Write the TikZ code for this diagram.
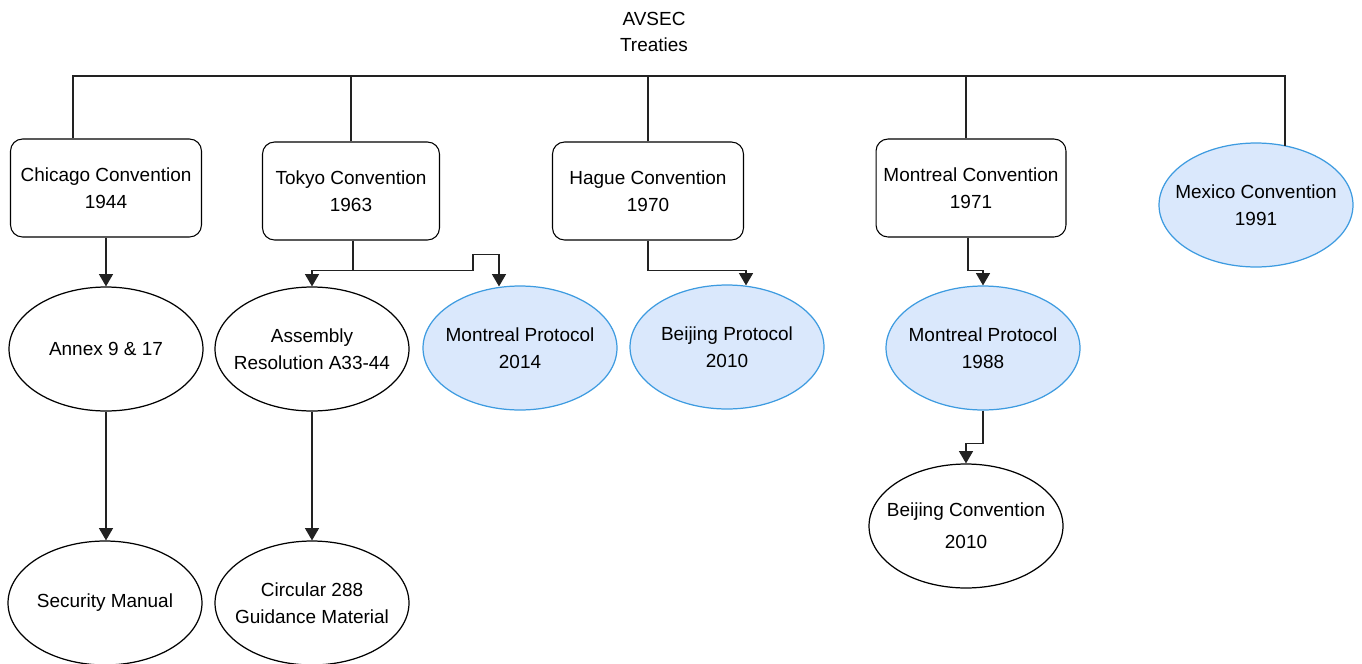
\documentclass[tikz,border=0pt]{standalone}
\usepackage{fontspec}
\setmainfont{Liberation Sans}
\usetikzlibrary{calc,positioning,arrows.meta,shapes.geometric}
\definecolor{protofill}{HTML}{DAE8FC}
\definecolor{protoline}{HTML}{3D9BE0}
\definecolor{linkgray}{HTML}{222222}

\begin{document}
\begin{tikzpicture}[x=0.02cm,y=-0.02cm,
    every node/.style={font=\fontsize{10.8}{15.3}\selectfont,align=center,inner sep=1pt},
    conv/.style={rectangle,draw=black,line width=0.6pt,rounded corners=0.24cm,minimum height=1.96cm},
    doc/.style={ellipse,draw=black,line width=0.7pt,inner xsep=-0.4cm,minimum width=3.88cm,minimum height=2.48cm},
    proto/.style={doc,draw=protoline,fill=protofill},
    link/.style={draw=linkgray,line width=0.6pt},
    arr/.style={link,-{Triangle[length=7pt,width=8pt]}}]

  \useasboundingbox (0,0) rectangle (1362,663);

  \node (title) at(654,32) {AVSEC\\Treaties};

  %% first row: the conventions
  \node (chicago) [conv,minimum width=3.82cm] at(106,188) {Chicago Convention\\1944};
  \node (tokyo) [conv,minimum width=3.54cm] at(351,191) {Tokyo Convention\\1963};
  \node (hague) [conv,minimum width=3.82cm] at(648,191) {Hague Convention\\1970};
  \node (montreal) [conv,minimum width=3.80cm] at(971,188) {Montreal Convention\\1971};
  \node (mexico) [proto] at(1256,205) {Mexico Convention\\1991};

  %% second row
  \node (annex) [doc] at(106,349) {Annex 9 \& 17};
  \node (assembly) [doc] at(312,349) {Assembly\\Resolution A33-44};
  \node (mp14) [proto] at(520,348) {Montreal Protocol\\2014};
  \node (bp10) [proto] at(727,347) {Beijing Protocol\\2010};
  \node (mp88) [proto] at(983,348) {Montreal Protocol\\1988};

  %% third row
  \node (security) [doc] at(105,603) {Security Manual};
  \node (circular) [doc] at(312,603) {Circular 288\\Guidance Material};
  \node (bc10) [doc] at(966,526) {Beijing Convention\\[2.8pt]2010};

  %% top bar
  \coordinate (barL) at(73,76);
  \coordinate (barR) at(1285,76);
  \draw[link] (barL |- chicago.north) -- (barL) -- (barR) -- (barR |- mexico.63.8);
  \draw[link] (tokyo.north) -- (tokyo.north |- barL);
  \draw[link] (hague.north) -- (hague.north |- barL);
  \draw[link] ($(montreal.north)+(-5,0)$) -- ($(montreal.north |- barL)+(-5,0)$);

  %% arrows
  \draw[arr] (chicago.south) -- (annex.north);
  \draw[arr] (annex.south) -- (annex.south |- security.north);
  \coordinate (tk) at($(tokyo.south)+(2,30)$);
  \draw[arr] ($(tokyo.south)+(2,0)$) -- (tk) -| (assembly.north);
  \draw[arr] (tk) -- ++(120,0) -- ++(0,-16) -| ($(mp14.north)+(-21,1)$);
  \draw[arr] (assembly.south) -- (circular.north);
  \draw[arr] (hague.south) -- ++(0,30) -| ($(bp10.north)+(19,1)$);
  \draw[arr] ($(montreal.south)+(-3,0)$) -- ++(0,33) -| (mp88.north);
  \draw[arr] (mp88.south) -- ++(0,33) -| (bc10.north);

\end{tikzpicture}
\end{document}
